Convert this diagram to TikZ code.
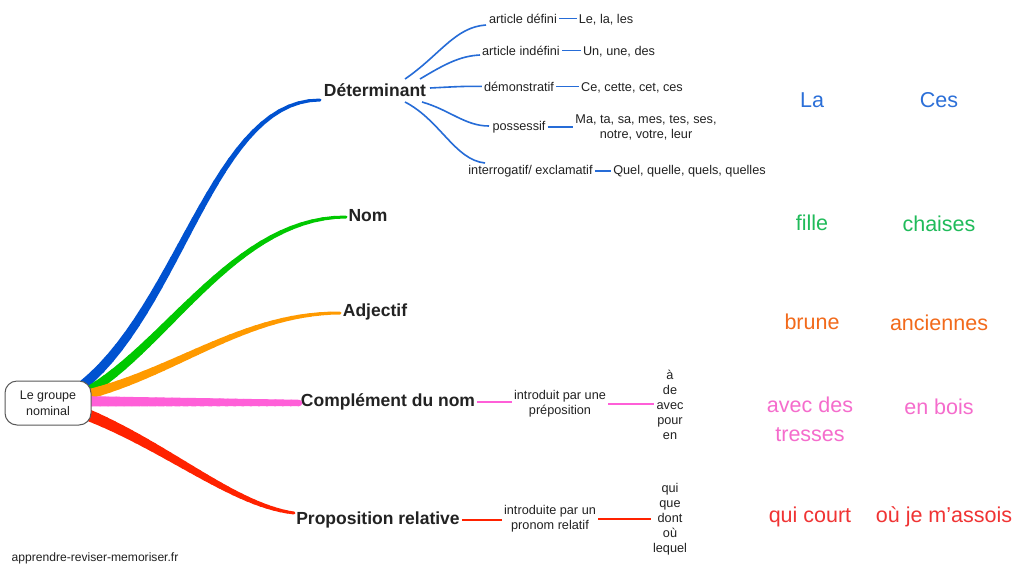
\documentclass[tikz,border=0pt]{standalone}
\usepackage{fontspec}
\setmainfont{Liberation Sans}
\usetikzlibrary{calc}
\definecolor{bBlue}{HTML}{0052D0}
\definecolor{bGreen}{HTML}{00C800}
\definecolor{bOrange}{HTML}{FF9A00}
\definecolor{bPink}{HTML}{FF5FD8}
\definecolor{bRed}{HTML}{FF2200}
\definecolor{tBlue}{HTML}{2B6FD8}
\definecolor{tGreen}{HTML}{20BB5A}
\definecolor{tOrange}{HTML}{F26A1B}
\definecolor{tPink}{HTML}{F56CCC}
\definecolor{tRed}{HTML}{F03333}
\definecolor{ink}{HTML}{222222}
\newcommand\taperbranch[7]{%
  \path #2 .. controls #3 and #4 .. #5 \foreach \k in {0,...,30}{coordinate[pos=\k/30] (tp\k)};
  \foreach \k [evaluate=\k as \kn using int(\k+1), evaluate=\k as \w using #6-(#6-#7)*\k/29] in {0,...,29}
    \draw[#1, line width=\w pt, line cap=round] (tp\k) -- (tp\kn);
}
\begin{document}
\begin{tikzpicture}[x=1pt,y=-1pt,
  main/.style={font=\fontsize{17.5}{20}\selectfont\bfseries, text=ink, inner sep=2pt},
  small/.style={font=\fontsize{12.7}{15}\selectfont, text=ink, inner sep=2pt, align=center},
  big/.style={font=\fontsize{21.5}{29}\selectfont, align=center},
  thin/.style={line width=1.6pt}]
\useasboundingbox (0,0) rectangle (1024,576);
\fill[white] (0,0) rectangle (1024,576);

% main labels
\node[main] (det) at (375,90) {Déterminant};
\node[main] (nom) at (368,216) {Nom};
\node[main] (adj) at (375,312) {Adjectif};
\node[main] (cdn) at (388,402) {Complément du nom};
\node[main] (prop) at (378,520) {Proposition relative};

% branch anchors
\coordinate (sB) at (70,395);
\coordinate (sG) at (72,400);
\coordinate (sO) at (72,398);
\coordinate (sP) at (60,401);
\coordinate (sR) at (70,408);
\coordinate (eB) at (320,100);
\coordinate (eG) at (346,217);
\coordinate (eO) at (340,313);
\coordinate (eP) at (299,403);
\coordinate (eR) at (294,513);

\taperbranch{bBlue}{(sB)}{(180,320)}{(210,100)}{(eB)}{10}{3}
\taperbranch{bGreen}{(sG)}{(160,360)}{(230,217)}{(eG)}{10}{3}
\taperbranch{bOrange}{(sO)}{(170,378)}{(240,313)}{(eO)}{10}{3}
\taperbranch{bPink}{(sP)}{(140,401.7)}{(220,402.3)}{(eP)}{10.5}{6.5}
\taperbranch{bRed}{(sR)}{(160,440)}{(230,505)}{(eR)}{12}{3}

% root
\node[draw=black!65, fill=white, rounded corners=12pt, line width=1pt,
      minimum width=86pt, minimum height=44pt, align=center,
      font=\fontsize{12.5}{16}\selectfont, text=ink] (root) at (48,403) {Le groupe\\nominal};

% Determinant children
\node[small, anchor=base] (adef) at (523,23) {article défini};
\node[small, anchor=base] (aind) at (521,55) {article indéfini};
\node[small, anchor=base] (dem) at (519,91) {démonstratif};
\node[small] (poss) at (519,127) {possessif};
\node[small, anchor=base] (inter) at (530.5,174) {interrogatif/ exclamatif};

\node[small, anchor=base] (l1) at (606,23) {Le, la, les};
\node[small, anchor=base] (l2) at (619,55) {Un, une, des};
\node[small, anchor=base] (l3) at (632,91) {Ce, cette, cet, ces};
\node[small] (l4) at (646,127) {Ma, ta, sa, mes, tes, ses,\\notre, votre, leur};
\node[small, anchor=base] (l5) at (689.5,174) {Quel, quelle, quels, quelles};

\begin{scope}[bBlue!85!white, thin]
\draw (405,79) .. controls (440,55) and (455,27) .. (486,25);
\draw (420,79) .. controls (445,64) and (460,56) .. (480,55);
\draw (430,88) .. controls (450,87) and (465,86) .. (dem.west);
\draw (422,102) .. controls (450,110) and (465,126) .. (489,126);
\draw (405,102) .. controls (440,120) and (455,160) .. (485,163);
\draw (adef.east) -- (adef.east -| l1.west);
\draw (aind.east) -- (aind.east -| l2.west);
\draw (dem.east) -- (dem.east -| l3.west);
\draw (poss.east) -- (poss.east -| l4.west);
\draw (inter.east) -- (inter.east -| l5.west);
\end{scope}

% Complement du nom children
\node[small] (intro) at (560,404) {introduit par une\\préposition};
\node[small] (colP) at (670,405) {à\\de\\avec\\pour\\en};
\draw[bPink, thin] (cdn.east) -- (cdn.east -| intro.west);
\draw[bPink, thin] (intro.east) -- (intro.east -| colP.west);

% Proposition relative children
\node[small] (introR) at (550,519) {introduite par un\\pronom relatif};
\node[small] (colR) at (670,519) {qui\\que\\dont\\où\\lequel};
\draw[bRed, thin] (prop.east) -- (prop.east -| introR.west);
\draw[bRed, thin] (introR.east) -- (introR.east -| colR.west);

% examples column
\node[big, text=tBlue] (ex1a) at (812,100) {La};
\node[big, text=tBlue] (ex1b) at (939,100) {Ces};
\node[big, text=tGreen] (ex2a) at (812,223) {fille};
\node[big, text=tGreen] (ex2b) at (939,224) {chaises};
\node[big, text=tOrange] (ex3a) at (812,322) {brune};
\node[big, text=tOrange] (ex3b) at (939,323) {anciennes};
\node[big, text=tPink] (ex4a) at (810,419) {avec des\\tresses};
\node[big, text=tPink] (ex4b) at (939,407) {en bois};
\node[big, text=tRed] (ex5a) at (810,517) {qui court};
\node[big, text=tRed] (ex5b) at (944,517) {où je m’assois};

% footer
\node[font=\fontsize{12.1}{14}\selectfont, text=ink, inner sep=0pt] (foot) at (95,558) {apprendre-reviser-memoriser.fr};
\end{tikzpicture}
\end{document}
